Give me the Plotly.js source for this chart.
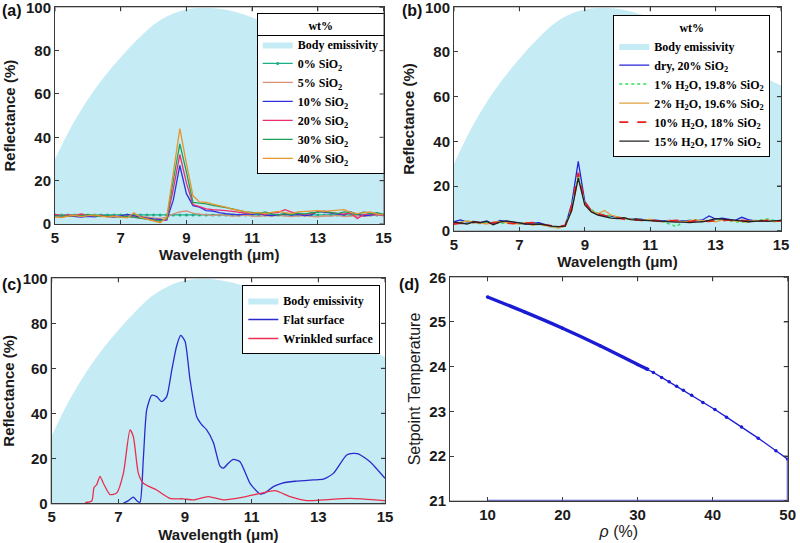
<!DOCTYPE html>
<html>
<head>
<meta charset="utf-8">
<script src="https://cdn.plot.ly/plotly-3.0.1.min.js"></script>
<style>html,body{margin:0;padding:0;background:#fff;} #chart{width:800px;height:543px;}</style>
</head>
<body>
<div id="chart"></div>
<script>
// ---------- data ----------
const wl = [5,5.2,5.4,5.6,5.8,6,6.2,6.4,6.6,6.8,7,7.2,7.4,7.6,7.8,8,8.2,8.4,8.6,8.8,9,9.2,9.4,9.6,9.8,10,10.2,10.4,10.6,10.8,11,11.2,11.4,11.6,11.8,12,12.2,12.4,12.6,12.8,13,13.2,13.4,13.6,13.8,14,14.2,14.4,14.6,14.8,15];

const emisX = [5,5.5,6,6.5,7,7.5,8,8.5,9,9.5,10,10.5,11,11.5,12,12.5,13,13.5,14,14.5,15];
const emisY = [30,45,57.5,68,77,85,92,96.5,99,99.8,99.3,97.8,95.3,91.8,87.5,83.3,79.2,75.5,72,68.5,65];

// panel (a) : SiO2 content
const sio0  = [4.2,4.1,4.2,4.2,4.1,4.2,4.2,4.1,4.2,4.2,4.1,4.2,4.2,4.1,4.2,4.2,4.1,4.2,4.2,4.1,4.2,4.2,4.1,4.2,4.2,4.1,4.2,4.2,4.1,4.2,4.2,4.1,4.2,4.2,4.1,4.2,4.2,4.1,4.2,4.2,4.1,4.2,4.2,4.1,4.2,4.2,4.1,4.2,4.2,4.1,4.2];
const sio5  = [4.3,3.8,3.6,4.2,4.6,4.0,3.7,3.9,3.5,3.3,3.6,3.2,3.8,3.4,3.0,2.8,2.6,3.2,4.6,5.6,6.0,5.0,4.6,4.2,4.0,4.3,3.9,3.6,3.8,4.1,3.7,3.5,3.9,3.6,4.0,3.8,3.4,3.7,3.9,3.5,3.3,3.8,3.6,4.0,3.4,3.6,3.9,3.5,3.8,4.1,3.9];
const sio10 = [4.0,3.6,3.8,3.4,3.2,3.5,3.3,3.8,3.5,3.2,3.7,4.4,3.8,3.1,2.7,2.3,1.9,1.8,11,27,14,8.5,7.8,6.2,6.0,5.2,4.8,4.4,4.2,4.7,4.4,4.8,4.1,3.9,4.3,4.6,4.1,4.4,3.9,4.2,5.8,5.4,5.0,4.4,4.2,5.6,4.5,3.8,4.0,4.4,4.2];
const sio20 = [4.4,3.9,4.2,3.8,4.5,3.9,3.6,4.0,3.4,3.7,3.3,3.6,3.1,2.7,2.3,1.9,1.5,2.0,16,32,19,9,8,7,6.6,6.5,6.2,5.8,5.4,5.0,5.2,4.8,4.5,5.0,5.4,6.6,5.5,4.9,4.4,4.8,5.6,5.9,5.2,4.9,4.6,5.0,2.6,4.3,4.8,4.5,4.2];
const sio30 = [3.6,3.9,3.5,4.1,3.7,4.3,3.8,3.4,3.9,3.6,3.2,3.5,3.0,2.6,2.2,1.8,1.4,2.4,20,37,24,10,9.6,9.3,8.6,8.2,7.6,7.0,6.4,5.6,5.4,4.8,5.6,4.6,4.2,4.8,4.4,5.0,4.6,5.2,5.4,5.8,5.4,4.8,5.6,5.2,4.4,5.6,4.8,5.2,4.6];
const sio40 = [3.2,3.0,3.6,4.0,3.4,3.8,4.2,3.6,3.2,3.5,3.0,2.8,5.2,3.2,2.2,1.4,0.6,3.0,24,44,28,13,10.2,10,9.2,8.6,7.8,6.8,6.2,5.6,5.0,5.4,4.8,5.4,5.8,5.2,4.8,5.6,5.8,6.0,6.2,5.8,6.0,6.4,6.6,5.4,4.8,5.2,5.6,4.6,4.4];

// panel (b) : H2O content
const dry   = [4.0,4.8,3.8,4.2,3.6,4.4,3.0,4.6,4.2,3.8,3.4,3.0,3.4,3.6,2.6,1.8,1.6,2.0,12,31,13,9,7.4,6.6,6.4,6.0,5.6,5.2,5.4,5.0,5.0,4.6,4.4,4.6,4.2,4.4,4.6,4.4,4.8,6.6,5.2,5.6,5.0,4.6,6.0,5.0,4.4,4.2,4.6,4.4,4.6];
const h2o1  = [3.4,3.8,4.2,3.6,3.2,3.8,3.4,3.6,3.2,3.8,3.0,3.4,2.8,3.0,2.4,1.6,1.4,2.2,10,25,12,9.4,7.8,7.0,6.4,6.2,5.4,5.0,5.4,4.6,4.8,4.2,4.0,3.0,1.8,4.0,4.6,4.8,4.2,4.4,4.6,5.0,4.6,4.0,3.8,4.2,4.6,4.8,5.2,4.6,4.4];
const h2o2  = [3.2,3.6,4.4,4.0,3.4,3.0,3.8,4.2,3.6,3.2,3.0,3.6,2.4,2.8,2.2,1.6,1.2,2.0,9,24,12,9.0,7.6,9.0,7.0,6.2,5.6,5.2,4.8,4.6,5.2,4.4,4.0,4.6,4.2,4.0,4.4,4.8,4.4,4.6,4.0,4.8,4.6,4.4,4.2,3.8,4.6,4.4,4.8,4.0,4.6];
const h2o10 = [3.0,3.4,3.2,3.8,3.6,3.0,3.6,3.8,3.4,3.2,3.6,3.4,3.6,3.0,2.6,2.2,1.8,2.4,11,26,13,8.6,7.6,6.8,6.2,5.8,5.2,4.6,5.0,4.4,4.6,4.4,4.0,4.4,4.6,4.2,4.0,4.6,4.4,4.2,4.6,4.4,4.8,4.2,4.6,4.4,4.0,4.4,4.6,4.2,4.4];
const h2o15 = [3.8,3.4,3.0,4.0,3.6,4.2,2.6,3.8,4.4,4.0,3.4,3.0,2.8,3.0,2.6,2.0,1.8,2.0,9,23.5,11.5,8.4,7.0,6.4,5.6,5.4,5.8,5.0,4.8,4.6,4.4,4.2,4.2,4.0,3.8,3.8,3.6,3.8,4.0,4.6,5.4,5.2,5.0,4.6,4.4,4.0,4.2,4.4,4.2,4.4,4.6];

// panel (c) : surfaces
const flatX = [7.15,7.3,7.45,7.58,7.65,7.75,7.85,8.0,8.15,8.3,8.45,8.6,8.75,8.87,9.0,9.15,9.35,9.5,9.65,9.85,10.05,10.15,10.3,10.45,10.65,10.95,11.25,11.4,11.65,11.9,12.3,12.85,13.15,13.45,13.85,14.05,14.2,14.55,15];
const flatY = [0,1.2,2.7,0.8,0.5,20,41.5,48,47.4,45.2,47.4,59,70,74.6,72,55,38.5,35,32.6,27,16.5,15.6,17.8,19.5,18.5,8.9,4.2,4.6,7.4,8.9,9.8,10.4,10.7,13.3,21.5,22.2,22,18.5,11.1];
const wrinkX = [6.0,6.2,6.27,6.35,6.45,6.55,6.75,6.95,7.15,7.35,7.45,7.6,7.75,8.15,8.55,8.95,9.25,9.7,10.15,10.75,11.25,11.7,12.15,12.65,13.15,13.95,15];
const wrinkY = [0.3,1.0,7.0,8.3,12.0,8.9,3.9,4.6,13.3,32.6,29.6,13.3,8.9,5.9,2.2,2.0,1.5,3.0,1.5,2.7,4.4,5.6,3.0,1.2,1.5,2.2,1.2];

// panel (d) : setpoint temperature
const rhoDense = [10,15,20,25,30,31.5];
const tDense   = [25.56,25.22,24.86,24.47,24.05,23.93];
const rhoPts = [10,15,20,25,30,31.2,32.1,33.2,34.2,35.2,36.1,37.2,38.7,40.3,41.85,43.85,46.07,48.43,50];
const tPts   = [25.56,25.22,24.86,24.47,24.05,23.95,23.87,23.76,23.66,23.56,23.47,23.36,23.2,23.04,22.87,22.65,22.40,22.12,21.93];
const rhoClose = [50,50,10];
const tClose   = [21.93,21,21];

// ---------- styles ----------
const EMIS = 'rgb(197,235,245)';
const serif = {family:'Liberation Serif, Times New Roman, serif', size:12, color:'#000', weight:'bold'};
const sans = 'Liberation Sans, Arial, sans-serif';
const tickFont = {family:sans, size:15, color:'#1a1a1a', weight:'bold'};
const titleFont = {family:sans, size:15, color:'#1a1a1a', weight:'bold'};
const AX = '#3a3a3a';

const DOM = {
  a:{x:[0.06875,0.4794],  y:[0.58748,0.98656]},
  b:{x:[0.5675,0.97625],  y:[0.57514,0.98656]},
  c:{x:[0.06463,0.48125], y:[0.07311,0.48748]},
  d:{x:[0.5625,0.98463],  y:[0.0779,0.48932]}
};

function emis(xa, ya, lg){
  return {x:emisX, y:emisY, xaxis:xa, yaxis:ya, type:'scatter', mode:'lines', fill:'tozeroy',
    fillcolor:EMIS, line:{color:EMIS, width:0, shape:'spline'}, name:'Body emissivity', legend:lg};
}
function ln(x, y, xa, ya, lg, name, color, extra){
  return Object.assign({x:x, y:y, xaxis:xa, yaxis:ya, type:'scatter', mode:'lines', name:name, legend:lg,
    line:{color:color, width:1.3}}, extra||{});
}

const traces = [
  emis('x','y','legend'),
  ln(wl, sio0, 'x','y','legend','0% SiO<sub>2</sub>','#1aae86',{mode:'lines+markers', marker:{size:3,color:'#1aae86'}}),
  ln(wl, sio5, 'x','y','legend','5% SiO<sub>2</sub>','#d98f78'),
  ln(wl, sio10,'x','y','legend','10% SiO<sub>2</sub>','#3030dd'),
  ln(wl, sio20,'x','y','legend','20% SiO<sub>2</sub>','#ee2d6e'),
  ln(wl, sio30,'x','y','legend','30% SiO<sub>2</sub>','#22a05a'),
  ln(wl, sio40,'x','y','legend','40% SiO<sub>2</sub>','#e6962e'),

  emis('x2','y2','legend2'),
  ln(wl, dry,  'x2','y2','legend2','dry, 20% SiO<sub>2</sub>','#2424d8'),
  ln(wl, h2o1, 'x2','y2','legend2','1% H<sub>2</sub>O, 19.8% SiO<sub>2</sub>','#2fe050',{line:{color:'#2fe050',width:1.5,dash:'dot'}}),
  ln(wl, h2o2, 'x2','y2','legend2','2% H<sub>2</sub>O, 19.6% SiO<sub>2</sub>','#e0a040'),
  ln(wl, h2o10,'x2','y2','legend2','10% H<sub>2</sub>O, 18% SiO<sub>2</sub>','#ee2020',{line:{color:'#ee2020',width:1.8,dash:'dash'}}),
  ln(wl, h2o15,'x2','y2','legend2','15% H<sub>2</sub>O, 17% SiO<sub>2</sub>','#222222'),

  emis('x3','y3','legend3'),
  ln(flatX, flatY, 'x3','y3','legend3','Flat surface','#2a2acc',{line:{color:'#2a2acc',width:1.3,shape:'spline',smoothing:0.6}}),
  ln(wrinkX, wrinkY,'x3','y3','legend3','Wrinkled surface','#e8304e',{line:{color:'#e8304e',width:1.3,shape:'spline',smoothing:0.6}}),

  {x:rhoDense, y:tDense, xaxis:'x4', yaxis:'y4', type:'scatter', mode:'lines', showlegend:false,
   line:{color:'#1c1cd6', width:3.4, shape:'spline'}},
  {x:rhoPts, y:tPts, xaxis:'x4', yaxis:'y4', type:'scatter', mode:'lines+markers', showlegend:false,
   line:{color:'#1c1cd6', width:1.3}, marker:{size:3.5, color:'#1c1cd6'}},
  {x:rhoClose, y:tClose, xaxis:'x4', yaxis:'y4', type:'scatter', mode:'lines', showlegend:false,
   line:{color:'#5a5ae6', width:2}}
];

function axis(extra){
  return Object.assign({showline:true, mirror:'ticks', linecolor:AX, linewidth:1,
    ticks:'inside', ticklen:4, tickcolor:AX, tickwidth:1, tickfont:tickFont,
    ticklabeloverflow:'allow',
    showgrid:false, zeroline:false, fixedrange:true}, extra);
}
const wlTicks = [5,7,9,11,13,15];
const rTicks = [0,20,40,60,80,100];

const legendBase = {bgcolor:'#fff', bordercolor:'#000', borderwidth:1, font:serif,
  xanchor:'left', yanchor:'top', itemwidth:30, tracegroupgap:0, traceorder:'normal'};

const layout = {
  width:800, height:543, margin:{l:0,r:0,t:0,b:0},
  paper_bgcolor:'#fff', plot_bgcolor:'#fff', showlegend:true,
  xaxis: axis({domain:DOM.a.x, range:[5,15], tickvals:wlTicks, anchor:'y',
    title:{text:'Wavelength (μm)', font:titleFont, standoff:2}}),
  yaxis: axis({domain:DOM.a.y, range:[0,100], tickvals:rTicks, anchor:'x',
    title:{text:'Reflectance (%)', font:titleFont, standoff:6}}),
  xaxis2: axis({domain:DOM.b.x, range:[5,15], tickvals:wlTicks, anchor:'y2',
    title:{text:'Wavelength (μm)', font:titleFont, standoff:2}}),
  yaxis2: axis({domain:DOM.b.y, range:[0,100], tickvals:rTicks, anchor:'x2',
    title:{text:'Reflectance (%)', font:titleFont, standoff:6}}),
  xaxis3: axis({domain:DOM.c.x, range:[5,15], tickvals:wlTicks, anchor:'y3',
    title:{text:'Wavelength (μm)', font:titleFont, standoff:6}}),
  yaxis3: axis({domain:DOM.c.y, range:[0,100], tickvals:rTicks, anchor:'x3',
    title:{text:'Reflectance (%)', font:titleFont, standoff:6}}),
  xaxis4: axis({domain:DOM.d.x, range:[5,50], tickvals:[10,20,30,40,50], anchor:'y4', layer:'below traces',
    title:{text:'<i>ρ</i> (%)', font:{family:sans, size:16, color:'#1a1a1a'}, standoff:2}}),
  yaxis4: axis({domain:DOM.d.y, range:[21,26], tickvals:[21,22,23,24,25,26], anchor:'x4', layer:'below traces',
    title:{text:'Setpoint Temperature', font:{family:sans, size:16, color:'#1a1a1a'}, standoff:4}}),
  legend: Object.assign({}, legendBase, {x:0.3209, y:0.9755,
    title:{text:'wt%', side:'top center', font:serif}}),
  legend2: Object.assign({}, legendBase, {x:0.7666, y:0.9724,
    title:{text:'wt%', side:'top center', font:serif}}),
  legend3: Object.assign({}, legendBase, {x:0.3029, y:0.4751}),
  annotations: [
    {text:'(a)', x:0.0, y:1.0, xref:'paper', yref:'paper', xanchor:'left', yanchor:'top', showarrow:false,
     font:{family:sans, size:16, weight:'bold', color:'#111'}},
    {text:'(b)', x:0.5, y:1.0, xref:'paper', yref:'paper', xanchor:'left', yanchor:'top', showarrow:false,
     font:{family:sans, size:16, weight:'bold', color:'#111'}},
    {text:'(c)', x:0.0, y:0.4954, xref:'paper', yref:'paper', xanchor:'left', yanchor:'top', showarrow:false,
     font:{family:sans, size:16, weight:'bold', color:'#111'}},
    {text:'(d)', x:0.4962, y:0.4954, xref:'paper', yref:'paper', xanchor:'left', yanchor:'top', showarrow:false,
     font:{family:sans, size:16, weight:'bold', color:'#111'}}
  ]
};

Plotly.newPlot('chart', traces, layout, {displayModeBar:false, staticPlot:true}).then(function(gd){
  const NS = 'http://www.w3.org/2000/svg';
  let svg = null;
  const lg = gd.querySelector('g.legend');
  if(lg) svg = lg.ownerSVGElement;
  if(!svg){ const all = gd.querySelectorAll('svg.main-svg'); svg = all[all.length-1]; }
  function add(tag, attrs){
    const el = document.createElementNS(NS, tag);
    Object.keys(attrs).forEach(function(k){ el.setAttribute(k, attrs[k]); });
    svg.appendChild(el);
  }
  // box outline + mirrored ticks of every subplot, placed with the library's own axis scales
  try {
    const fl = gd._fullLayout;
    [['xaxis','yaxis'],['xaxis2','yaxis2'],['xaxis3','yaxis3'],['xaxis4','yaxis4']].forEach(function(p){
      const xa = fl[p[0]], ya = fl[p[1]];
      const L = xa._offset, R = xa._offset + xa._length, T = ya._offset, B = ya._offset + ya._length;
      add('rect', {x:L-0.5, y:T-0.5, width:R-L+1, height:B-T+1, fill:'none', stroke:AX, 'stroke-width':1});
      (xa.tickvals||[]).forEach(function(v){
        const px = xa._offset + xa.l2p(v);
        add('line', {x1:px, x2:px, y1:T, y2:T+4, stroke:AX, 'stroke-width':1});
      });
      (ya.tickvals||[]).forEach(function(v){
        const py = ya._offset + ya.l2p(v);
        add('line', {x1:R, x2:R-4, y1:py, y2:py, stroke:AX, 'stroke-width':1});
      });
    });
  } catch(e) {}
  // thin rule under each legend title
  try {
    ['legend','legend2'].forEach(function(cls){
      const g = gd.querySelector('g.' + cls);
      if(!g) return;
      const bg = g.querySelector('rect.bg');
      const tt = g.querySelector('text.legendtitletext');
      const s2 = g.ownerSVGElement;
      if(!bg || !tt || !s2) return;
      const s = s2.getBoundingClientRect();
      const b = bg.getBoundingClientRect();
      const t = tt.getBoundingClientRect();
      const yy = Math.round(t.bottom - s.top + 2) + 0.5;
      const line = document.createElementNS(NS, 'line');
      line.setAttribute('x1', b.left - s.left);
      line.setAttribute('x2', b.right - s.left);
      line.setAttribute('y1', yy);
      line.setAttribute('y2', yy);
      line.setAttribute('stroke', '#000');
      line.setAttribute('stroke-width', '1');
      s2.appendChild(line);
    });
  } catch(e) {}
});
</script>
</body>
</html>
